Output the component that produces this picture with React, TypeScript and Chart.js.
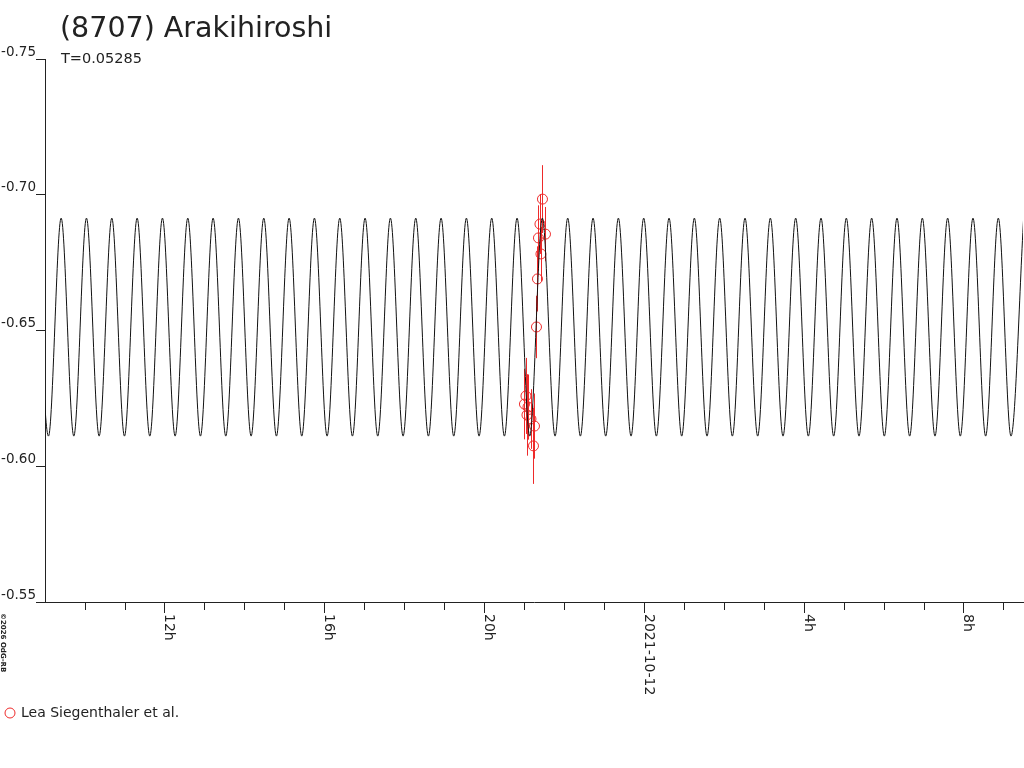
import { useEffect, useRef } from "react";
import { Chart, registerables } from "chart.js";

Chart.register(...registerables);

const peakHours = [
  8.78, 9.414, 10.048, 10.682, 11.316, 11.95, 12.584, 13.218, 13.852, 14.486,
  15.12, 15.754, 16.388, 17.022, 17.656, 18.29, 18.924, 19.558, 20.192, 20.826,
  21.46, 22.094, 22.728, 23.362, 23.996, 24.63, 25.264, 25.898, 26.532, 27.166,
  27.8, 28.434, 29.068, 29.702, 30.336, 30.97, 31.604, 32.238, 32.872, 33.506,
];
const troughHours = [
  9.097, 9.731, 10.365, 10.999, 11.633, 12.267, 12.901, 13.535, 14.169, 14.803,
  15.437, 16.071, 16.705, 17.339, 17.973, 18.607, 19.241, 19.875, 20.509, 21.143,
  21.777, 22.411, 23.045, 23.679, 24.313, 24.947, 25.581, 26.215, 26.849, 27.483,
  28.117, 28.751, 29.385, 30.019, 30.653, 31.287, 31.921, 32.555, 33.189,
];
const peakMag = -0.6914;
const troughMag = -0.6111;

// Observations (Lea Siegenthaler et al.)
const obsHours = [
  21.462, 21.399, 21.537, 21.362, 21.424, 21.337, 21.312,
  21.049, 21.011, 21.099, 21.074, 21.174, 21.262, 21.237,
];
const obsMag = [
  -0.6984, -0.6892, -0.6855, -0.6841, -0.6782, -0.669, -0.6513,
  -0.6259, -0.6229, -0.6218, -0.6189, -0.6174, -0.6148, -0.6075,
];
const obsErr = [
  0.0125, 0.011, 0.01, 0.012, 0.01, 0.012, 0.0115,
  0.014, 0.013, 0.012, 0.015, 0.011, 0.012, 0.014,
];

const xLabelHours = [12, 16, 20, 24, 28, 32];
const xLabels = ["12h", "16h", "20h", "2021-10-12", "4h", "8h"];

const title = "(8707) Arakihiroshi";
const subtitle = "T=0.05285";
const seriesName = "Lea Siegenthaler et al.";
const credit = "©2026 OdG-RB";

const INK = "#222";
const RED = "#ee2a2a";
const FONT = "'DejaVu Sans', sans-serif";

const overlay = {
  id: "overlay",
  beforeDatasetsDraw(chart: any) {
    const { ctx } = chart;
    const { x, y } = chart.scales;
    // error bars
    ctx.save();
    ctx.strokeStyle = RED;
    ctx.lineWidth = 1;
    ctx.beginPath();
    obsHours.forEach((h, i) => {
      const px = Math.round(x.getPixelForValue(h)) + 0.5;
      ctx.moveTo(px, y.getPixelForValue(obsMag[i] - obsErr[i]));
      ctx.lineTo(px, y.getPixelForValue(obsMag[i] + obsErr[i]));
    });
    ctx.stroke();
    ctx.restore();
  },
  afterDraw(chart: any) {
    const { ctx, chartArea } = chart;
    const x = chart.scales.x;
    const bottom = chartArea.bottom;
    ctx.save();
    ctx.strokeStyle = INK;
    ctx.fillStyle = INK;
    ctx.lineWidth = 1;

    // hour ticks, longer every 4 h
    ctx.beginPath();
    x.ticks.forEach((t: any) => {
      const px = Math.round(x.getPixelForValue(t.value)) + 0.5;
      const len = t.value % 4 === 0 ? 11 : 8;
      ctx.moveTo(px, bottom);
      ctx.lineTo(px, bottom + len);
    });
    ctx.stroke();

    // rotated tick labels, reading downwards
    ctx.font = `14px ${FONT}`;
    ctx.textAlign = "left";
    ctx.textBaseline = "alphabetic";
    xLabelHours.forEach((h, i) => {
      ctx.save();
      ctx.translate(Math.round(x.getPixelForValue(h)) + 1, bottom + 12);
      ctx.rotate(Math.PI / 2);
      ctx.fillText(xLabels[i], 0, 0);
      ctx.restore();
    });

    // title
    ctx.font = `28.5px ${FONT}`;
    ctx.fillText(title, 60, 37);
    ctx.font = `14.5px ${FONT}`;
    ctx.fillText(subtitle, 61, 63);

    // legend
    ctx.font = `14px ${FONT}`;
    ctx.strokeStyle = RED;
    ctx.beginPath();
    ctx.arc(10, 713, 5, 0, Math.PI * 2);
    ctx.stroke();
    ctx.fillText(seriesName, 21, 717);

    // credit
    ctx.font = `bold 7px ${FONT}`;
    ctx.save();
    ctx.translate(1, 613);
    ctx.rotate(Math.PI / 2);
    ctx.fillText(credit, 0, 0);
    ctx.restore();

    ctx.restore();
  },
};

export default function App() {
  const chartRef = useRef<HTMLCanvasElement>(null);
  const chartInstance = useRef<Chart | null>(null);

  useEffect(() => {
    if (!chartRef.current) return;
    if (chartInstance.current) chartInstance.current.destroy();

    const curve = [
      ...peakHours.map((h) => ({ x: h, y: peakMag })),
      ...troughHours.map((h) => ({ x: h, y: troughMag })),
    ].sort((a, b) => a.x - b.x);
    const obs = obsHours.map((h, i) => ({ x: h, y: obsMag[i] }));

    chartInstance.current = new Chart(chartRef.current, {
      type: "line",
      data: {
        datasets: [
          {
            label: "fit",
            data: curve,
            borderColor: "#111",
            borderWidth: 1,
            pointRadius: 0,
            cubicInterpolationMode: "monotone",
            fill: false,
          },
          {
            type: "scatter",
            label: seriesName,
            data: obs,
            borderColor: RED,
            backgroundColor: "rgba(0,0,0,0)",
            borderWidth: 1,
            pointRadius: 5,
            pointHoverRadius: 5,
          } as any,
        ],
      },
      options: {
        responsive: false,
        animation: false,
        events: [],
        layout: { autoPadding: false, padding: { top: 59, right: 1, left: 0, bottom: 0 } },
        scales: {
          x: {
            type: "linear",
            min: 9.01,
            max: 33.49,
            ticks: { display: false, stepSize: 1, includeBounds: false, autoSkip: false },
            grid: { display: true, drawOnChartArea: false, drawTicks: false, color: INK },
            border: { display: true, color: INK, width: 1 },
            afterFit: (s: any) => {
              s.height = 166;
            },
          },
          y: {
            type: "linear",
            reverse: true,
            min: -0.75,
            max: -0.55,
            ticks: {
              stepSize: 0.05,
              padding: 0,
              labelOffset: -7,
              color: INK,
              font: { family: FONT, size: 13.5 },
              callback: (v: any) => Number(v).toFixed(2),
            },
            grid: { display: true, drawOnChartArea: false, drawTicks: true, tickLength: 9, color: INK },
            border: { display: true, color: INK, width: 1 },
            afterFit: (s: any) => {
              s.width = 45;
            },
          },
        },
        plugins: {
          legend: { display: false },
          tooltip: { enabled: false },
        },
      },
      plugins: [overlay],
    });

    return () => {
      if (chartInstance.current) {
        chartInstance.current.destroy();
        chartInstance.current = null;
      }
    };
  }, []);

  return (
    <div style={{ position: "fixed", left: 0, top: 0, width: 1024, height: 768, background: "#fff" }}>
      <canvas ref={chartRef} width={1024} height={768} style={{ width: 1024, height: 768 }} />
    </div>
  );
}
